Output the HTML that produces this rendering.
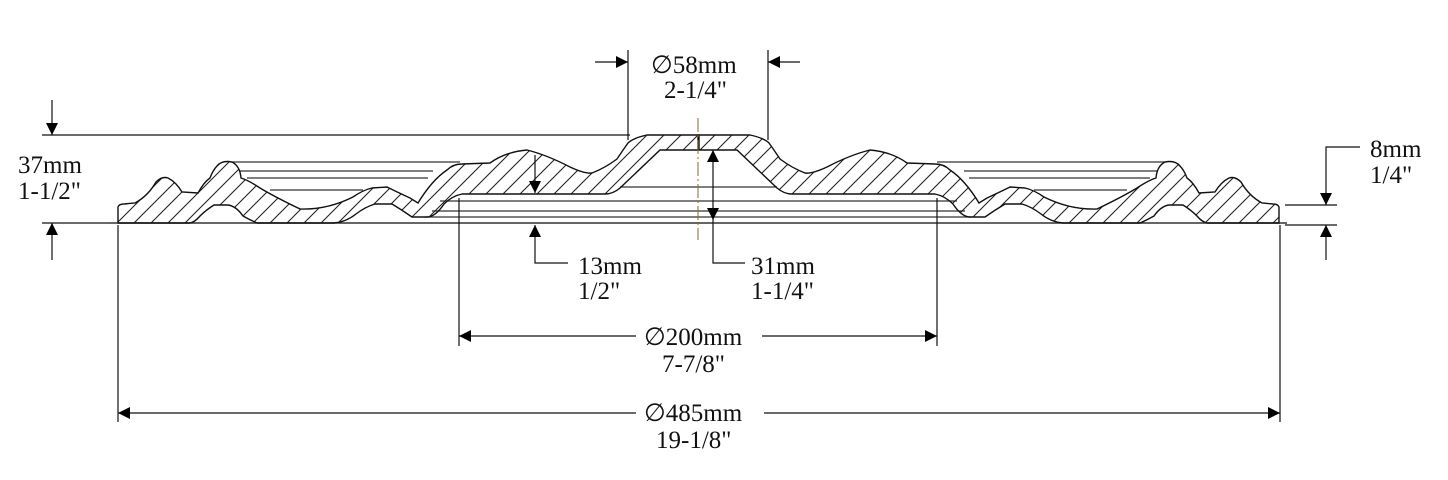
<!DOCTYPE html>
<html><head><meta charset="utf-8"><style>
html,body{margin:0;padding:0;background:#fff;}
svg{display:block;}
text{font-family:"Liberation Serif","DejaVu Serif",serif;font-size:25px;fill:#111;}
</style></head><body>
<svg width="1448" height="480" viewBox="0 0 1448 480" xmlns="http://www.w3.org/2000/svg">
<defs>
<pattern id="h" patternUnits="userSpaceOnUse" width="17" height="17">
<path d="M-2,19 L19,-2 M-2,2 L2,-2 M15,19 L19,15" stroke="#222" stroke-width="1.1"/>
</pattern>
<path id="L" d="M118,223 L118,207 Q119,204 124,204 L135,203 Q148,196 156,182 Q162,176 168,178 Q176,182 182,192 L198,193 Q204,182 210,178 Q213,170 217,166 Q222,160 232,162 Q240,166 241,178 Q248,180 260,188 Q275,197 300,209 Q327,210 353,197 Q363,190 372,188 L387,187 Q397,192 410,198 L418,203 Q432,180 447,170 Q453,164 462,164 L490,163 Q505,152 527,150 Q547,155 570,167 Q585,174 592,173 Q605,168 617,159 Q623,150 628,143 Q633,138 647,135 L698,135 L698,150 L660,150 L620,188 Q613,194 605,194 L462,194 Q452,196 444,204 Q436,216 428,217 L412,217 Q402,210 392,204 L375,204 Q365,207 356,214 Q346,222 334,223 L257,223 Q250,220 243,216 Q236,206 228,205 L214,205 Q206,210 200,216 Q195,222 190,223 Z" />
<clipPath id="c"><use href="#L"/><use href="#L" transform="translate(1397,0) scale(-1,1)"/></clipPath>
<marker id="v" viewBox="0 0 10 10" refX="10" refY="5" markerWidth="36" markerHeight="12" orient="auto-start-reverse" markerUnits="userSpaceOnUse"><path d="M0,0 L10,5 L0,10 Z" fill="#000"/></marker>
</defs>

<g stroke="#333" stroke-width="1.2" fill="none">
<path d="M230,162 H460 M240,171 H433 M247,178 H428 M270,190 H363"/>
<path d="M1167,162 H937 M1157,171 H964 M1150,178 H969 M1127,190 H1034"/>
<path d="M620,187 H777 M440,201 H957 M432,211 H965 M425,217 H972"/>
<path d="M110,223 H1287" stroke-width="1.4"/>
</g>

<rect x="100" y="120" width="1200" height="110" fill="url(#h)" clip-path="url(#c)"/>
<g fill="none" stroke="#111" stroke-width="1.4">
<use href="#L"/><use href="#L" transform="translate(1397,0) scale(-1,1)"/>
</g>

<path d="M698,118 V240" stroke="#8a6a3a" stroke-width="1" stroke-dasharray="14,3,2,3"/>

<g stroke="#111" stroke-width="1.2" fill="none">
<path d="M42,135 H630"/>
<path d="M52,100 V135" marker-end="url(#v)"/>
<path d="M42,223 H110"/>
<path d="M52,260 V223" marker-end="url(#v)"/>
<path d="M628,50 V140 M768,50 V140"/>
<path d="M595,62 H628" marker-end="url(#v)"/>
<path d="M800,62 H768" marker-end="url(#v)"/>
<path d="M1285,205 H1337 M1285,225 H1337"/>
<path d="M1360,147 H1326 V205" marker-end="url(#v)"/>
<path d="M1326,260 V225" marker-end="url(#v)"/>
<path d="M535,155 V193" marker-end="url(#v)"/>
<path d="M568,263 H535 V225" marker-end="url(#v)"/>
<path d="M713,185 V150" marker-end="url(#v)"/>
<path d="M745,263 H713 V185 L713,220" marker-end="url(#v)"/>
<path d="M459,198 V346 M937,198 V346"/>
<path d="M636,336 H459" marker-end="url(#v)"/>
<path d="M762,336 H937" marker-end="url(#v)"/>
<path d="M118,225 V422 M1280,225 V422"/>
<path d="M636,413 H118" marker-end="url(#v)"/>
<path d="M764,413 H1280" marker-end="url(#v)"/>
</g>

<text x="18" y="173">37mm</text>
<text x="18" y="199">1-1/2"</text>
<text x="1370" y="157">8mm</text>
<text x="1370" y="183">1/4"</text>
<text x="651" y="73">∅58mm</text>
<text x="664" y="98">2-1/4"</text>
<text x="578" y="274">13mm</text>
<text x="578" y="299">1/2"</text>
<text x="751" y="274">31mm</text>
<text x="751" y="299">1-1/4"</text>
<text x="644" y="345">∅200mm</text>
<text x="662" y="372">7-7/8"</text>
<text x="644" y="421">∅485mm</text>
<text x="656" y="448">19-1/8"</text>
</svg>
</body></html>
